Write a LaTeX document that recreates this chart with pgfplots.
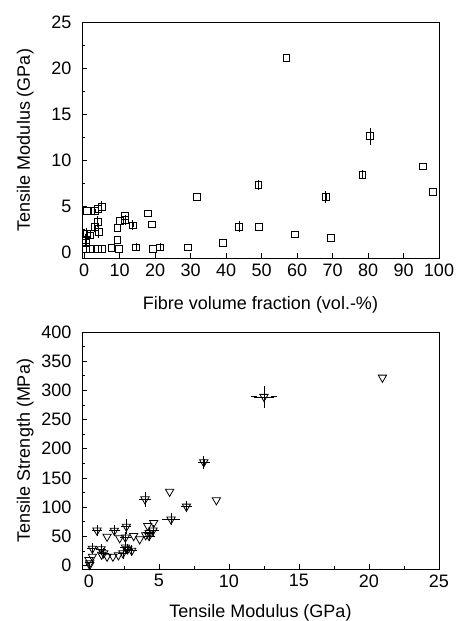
\documentclass[border=0pt]{standalone}
\usepackage{fontspec}
\setmainfont{Liberation Sans}
\usepackage{pgfplots}
\usepackage{pgfplotstable}
\pgfplotsset{compat=1.18}

% top panel: modulus vs fibre volume fraction
\pgfplotstableread{
x y
57 21.1
95.4 9.3
98.2 6.55
31.7 6.0
49.3 2.75
59.3 1.92
69.5 1.52
39.2 1.0
29.3 0.5
19.3 0.36
19.2 3.0
18.0 4.2
11.6 3.9
9.4 2.6
9.4 1.3
9.8 0.36
7.7 0.43
0.8 4.5
4.9 0.3
3.8 0.36
1.7 0.3
0.4 0.3
1.7 1.8
10.1 3.4
}\modplain
\pgfplotstableread{
x y ey
80.6 12.6 0.6
78.4 8.4 0.15
49.1 7.28 0.2
68.1 6.0 0.3
43.7 2.75 0.3
13.7 2.9 0.2
11.6 3.5 0.2
4.9 4.9 0.3
3.9 4.7 0.3
3.0 4.5 0.2
3.8 3.3 0.3
4.1 2.2 0.3
3.0 2.75 0.2
0.76 2.0 0.3
0.4 1.3 0.3
0.5 1.0 0.3
21.4 0.5 0.1
14.6 0.5 0.1
}\moderr

% bottom panel: strength vs modulus
\pgfplotstableread{
x y
20.96 322
9.1 112
5.76 126.5
4.62 73
4.19 68
1.29 49.5
2.19 47
3.62 45
4.05 52
1.71 15.3
1.29 15.3
0.24 15.3
0 9.6
0.05 4
0.05 1
2.1 17.6
0.9 18.7
3.19 50.7
}\strplain
\pgfplotstableread{
x y ex ey
12.5 289 0.7 14
8.2 177 0.2 6
4.0 113.5 0.2 8
6.96 101 0.2 5
5.86 79 0.4 5
4.3 56 0.2 4
4.57 60 0.2 4
2.67 66.6 0.15 8
0.57 60 0.15 4
1.81 59.8 0.2 4
2.6 48 0.15 4
4.29 50.7 0.2 4
2.6 31 0.15 4
2.76 28 0.15 4
2.43 21 0.15 4
3.05 25.5 0.15 4
0.24 29 0.15 4
0.86 28 0.15 4
1.05 21 0.15 3
}\strerr

\pgfplotsset{
  panel/.style={
    scale only axis,
    width=357pt, height=236pt,
    anchor=south west,
    axis line style={line width=0.8pt},
    tick pos=left,
    tick align=inside,
    major tick length=5pt,
    minor tick length=3pt,
    every tick/.style={black, line width=0.8pt},
    tick label style={font=\fontsize{18}{21}\selectfont},
    yticklabel style={xshift=-7pt},
    xticklabel style={yshift=-2pt},
    ylabel style={font=\fontsize{18}{21}\selectfont,
      at={(axis description cs:0,0.5)}, rotate=0, anchor=base,
      yshift=52pt},
    /pgf/number format/assume math mode=true,
    /pgf/number format/1000 sep={},
  },
}

\begin{document}
\begin{tikzpicture}
\useasboundingbox (0,0) rectangle (457pt,621pt);

\begin{axis}[panel,
  at={(82pt,363pt)},
  xmin=-0.6, xmax=100,
  ymin=-0.65, ymax=25,
  xtick={0,10,...,100},
  ytick={0,5,...,25},
  minor y tick num=1,
  xlabel style={font=\fontsize{18}{21}\selectfont,
    at={(axis description cs:0.5,0)}, anchor=base, yshift=-52pt},
  xlabel={Fibre volume fraction (vol.-\%)},
  ylabel={Tensile Modulus (GPa)},
]
\addplot[only marks, mark=square, mark size=3.4pt, line width=0.8pt, black]
  table[x=x, y=y] {\modplain};
\addplot[only marks, mark=square, mark size=3.4pt, line width=0.8pt, black,
  error bars/.cd, y dir=both, y explicit,
  error mark options={black, mark size=3pt, line width=0.8pt}]
  table[x=x, y=y, y error=ey] {\moderr};
\end{axis}

\begin{axis}[panel,
  at={(82pt,52pt)},
  height=237pt,
  xmin=-0.5, xmax=25,
  ymin=-6, ymax=400,
  xtick={0,5,...,25},
  ytick={0,50,...,400},
  minor tick num=1,
  xlabel style={font=\fontsize{18}{21}\selectfont,
    at={(axis description cs:0.5,0)}, anchor=base, yshift=-48pt},
  xlabel={Tensile Modulus (GPa)},
  ylabel={Tensile Strength (MPa)},
]
\addplot[only marks, mark=triangle, mark size=4.8pt, line width=0.8pt, black,
  every mark/.append style={rotate=180}]
  table[x=x, y=y] {\strplain};
\addplot[only marks, mark=triangle, mark size=4.8pt, line width=0.8pt, black,
  every mark/.append style={rotate=180},
  error bars/.cd, x dir=both, x explicit, y dir=both, y explicit,
  error mark options={black, mark size=3pt, line width=0.8pt}]
  table[x=x, y=y, x error=ex, y error=ey] {\strerr};
\end{axis}
\end{tikzpicture}
\end{document}
